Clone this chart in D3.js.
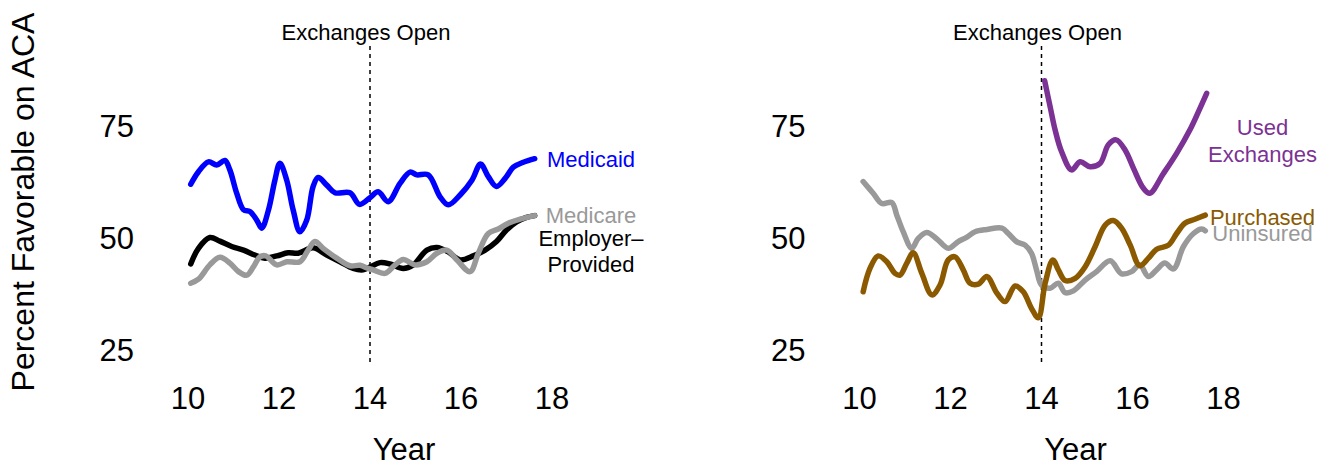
<!DOCTYPE html>
<html>
<head>
<meta charset="utf-8">
<script src="https://cdn.jsdelivr.net/npm/d3@7"></script>
<style>
  html, body { margin: 0; padding: 0; background: #fff; }
  text { font-family: "Liberation Sans", Arial, sans-serif; }
</style>
</head>
<body>
<svg id="chart" width="1329" height="467"></svg>
<script>
// Favourability of the ACA by coverage type, 2010–2018 (year, percent)
const medicaid = [
  [10.06,62.0],[10.23,64.8],[10.45,67.0],[10.63,66.3],[10.81,67.3],[10.92,65.2],[11.07,60.0],
  [11.22,56.3],[11.36,55.9],[11.51,54.0],[11.62,52.2],[11.77,56.3],[11.91,62.9],[12.02,66.7],
  [12.17,62.9],[12.31,56.3],[12.46,51.4],[12.61,54.0],[12.75,61.5],[12.86,63.5],[13.05,61.8],
  [13.23,60.1],[13.56,60.1],[13.77,57.5],[14.0,59.0],[14.18,60.3],[14.40,58.1],[14.66,62.2],
  [14.88,64.7],[15.03,64.1],[15.28,64.1],[15.54,59.2],[15.72,57.4],[15.98,59.6],[16.24,62.9],
  [16.43,66.5],[16.60,63.7],[16.78,61.5],[16.97,63.3],[17.15,65.8],[17.37,66.9],[17.62,67.7]
];
const employer = [
  [10.06,44.2],[10.23,47.7],[10.48,50.1],[10.70,49.3],[10.96,48.1],[11.22,47.3],[11.47,46.2],
  [11.69,45.5],[11.95,46.0],[12.20,46.7],[12.42,46.6],[12.75,47.8],[13.05,46.2],[13.34,44.7],
  [13.63,43.2],[13.85,42.9],[14.0,43.5],[14.22,44.5],[14.44,44.2],[14.73,43.2],[14.95,44.0],
  [15.25,47.3],[15.47,47.9],[15.72,46.9],[15.98,45.1],[16.27,46.0],[16.53,47.3],[16.78,49.2],
  [17.0,51.8],[17.22,53.6],[17.44,54.6],[17.62,55.0]
];
const medicare = [
  [10.06,39.9],[10.23,40.8],[10.48,44.0],[10.70,45.7],[10.92,44.4],[11.11,42.5],[11.29,41.7],
  [11.44,43.6],[11.58,45.8],[11.71,46.0],[11.95,44.0],[12.17,44.7],[12.46,44.7],[12.64,47.3],
  [12.79,49.2],[12.97,47.7],[13.27,45.5],[13.56,43.8],[13.78,43.9],[13.96,43.2],[14.07,42.9],
  [14.33,42.1],[14.55,44.0],[14.73,45.2],[14.99,44.0],[15.25,44.7],[15.47,46.6],[15.69,47.3],
  [15.91,45.1],[16.20,42.5],[16.38,46.6],[16.60,51.0],[16.82,52.0],[17.04,53.3],[17.30,54.2],
  [17.62,55.0]
];
const usedExchanges = [
  [14.07,85.1],[14.19,79.3],[14.30,74.1],[14.44,69.3],[14.66,65.2],[14.85,67.0],[15.07,65.9],
  [15.29,66.7],[15.47,70.8],[15.64,71.9],[15.84,69.6],[16.02,65.6],[16.24,61.1],[16.38,60.0],
  [16.68,64.4],[16.97,68.9],[17.26,74.1],[17.48,78.9],[17.63,82.3]
];
const purchased = [
  [10.08,38.0],[10.23,43.2],[10.41,46.0],[10.60,44.7],[10.78,42.1],[10.89,41.7],[11.04,44.4],
  [11.18,46.7],[11.37,42.1],[11.59,37.3],[11.77,39.5],[11.95,45.1],[12.10,45.8],[12.28,42.9],
  [12.43,39.9],[12.61,39.7],[12.80,41.4],[13.02,37.7],[13.20,35.8],[13.42,39.3],[13.60,38.0],
  [13.78,34.3],[13.93,32.2],[14.08,39.9],[14.25,45.1],[14.37,42.9],[14.52,40.5],[14.74,41.0],
  [14.96,43.6],[15.18,48.1],[15.40,52.9],[15.58,53.9],[15.76,52.2],[15.95,48.4],[16.16,43.8],
  [16.35,45.5],[16.53,47.5],[16.79,48.4],[16.97,51.0],[17.15,53.3],[17.37,54.2],[17.60,55.1]
];
const uninsured = [
  [10.08,62.6],[10.30,60.0],[10.49,57.7],[10.71,57.9],[10.82,55.1],[10.96,51.4],[11.15,47.7],
  [11.29,49.9],[11.48,51.2],[11.70,49.8],[11.95,47.7],[12.17,49.2],[12.36,50.2],[12.54,51.4],
  [12.80,51.9],[13.13,52.2],[13.27,51.0],[13.45,49.2],[13.64,48.4],[13.78,46.6],[13.89,42.9],
  [14.0,39.5],[14.19,38.8],[14.37,39.9],[14.52,37.8],[14.70,38.2],[14.96,40.6],[15.21,42.5],
  [15.51,44.9],[15.76,42.0],[15.98,42.5],[16.16,44.0],[16.35,41.4],[16.53,42.9],[16.71,44.4],
  [16.90,43.1],[17.12,48.1],[17.34,51.0],[17.52,52.0],[17.60,51.6]
];

const yearTicks = [10, 12, 14, 16, 18];
const pctTicks = [25, 50, 75];
const exchangeYear = 14;

const panels = [
  {
    x0: 188,
    series: [
      { data: employer, color: "#000000" },
      { data: medicare, color: "#999999" },
      { data: medicaid, color: "#0000ff" }
    ],
    labels: [
      { lines: ["Medicaid"], color: "#0000ff", y: [159] },
      { lines: ["Medicare"], color: "#999999", y: [215] },
      { lines: ["Employer\u2013", "Provided"], color: "#000000", y: [238, 264] }
    ]
  },
  {
    x0: 859.5,
    series: [
      { data: uninsured, color: "#999999" },
      { data: purchased, color: "#8b5a00" },
      { data: usedExchanges, color: "#7b3294" }
    ],
    labels: [
      { lines: ["Used", "Exchanges"], color: "#7b3294", y: [127, 154] },
      { lines: ["Purchased"], color: "#8b5a00", y: [217] },
      { lines: ["Uninsured"], color: "#999999", y: [233] }
    ]
  }
];

const svg = d3.select("#chart");
const y = d3.scaleLinear().domain([25, 75]).range([350, 126]);

panels.forEach(p => {
  const x = d3.scaleLinear().domain([10, 18]).range([p.x0, p.x0 + 364]);
  const g = svg.append("g");

  // y tick labels
  g.selectAll(".ytick").data(pctTicks).join("text")
    .attr("x", p.x0 - 54)
    .attr("y", d => y(d))
    .attr("text-anchor", "end")
    .attr("dominant-baseline", "central")
    .attr("font-size", 31)
    .text(d => d);

  // x tick labels
  g.selectAll(".xtick").data(yearTicks).join("text")
    .attr("x", d => x(d))
    .attr("y", 409)
    .attr("text-anchor", "middle")
    .attr("font-size", 31)
    .text(d => d);

  g.append("text")
    .attr("x", x(14) + 34)
    .attr("y", 460)
    .attr("text-anchor", "middle")
    .attr("font-size", 31)
    .text("Year");

  // marketplace opening marker
  g.append("line")
    .attr("x1", x(exchangeYear)).attr("x2", x(exchangeYear))
    .attr("y1", 46).attr("y2", 362)
    .attr("stroke", "#000")
    .attr("stroke-width", 1.5)
    .attr("stroke-dasharray", "4,4");

  g.append("text")
    .attr("x", x(exchangeYear) - 4)
    .attr("y", 40)
    .attr("text-anchor", "middle")
    .attr("font-size", 22)
    .text("Exchanges Open");

  const line = d3.line()
    .x(d => x(d[0]))
    .y(d => y(d[1]))
    .curve(d3.curveCatmullRom.alpha(0.5));

  p.series.forEach(s => {
    g.append("path")
      .datum(s.data)
      .attr("d", line)
      .attr("fill", "none")
      .attr("stroke", s.color)
      .attr("stroke-width", 5.5)
      .attr("stroke-linecap", "round")
      .attr("stroke-linejoin", "round");
  });

  p.labels.forEach(l => {
    l.lines.forEach((t, i) => {
      g.append("text")
        .attr("x", p.x0 + 403)
        .attr("y", l.y[i])
        .attr("text-anchor", "middle")
        .attr("dominant-baseline", "central")
        .attr("font-size", 22)
        .attr("fill", l.color)
        .text(t);
    });
  });
});

svg.append("text")
  .attr("transform", "translate(23,202) rotate(-90)")
  .attr("text-anchor", "middle")
  .attr("dominant-baseline", "central")
  .attr("font-size", 32)
  .text("Percent Favorable on ACA");
</script>
</body>
</html>
